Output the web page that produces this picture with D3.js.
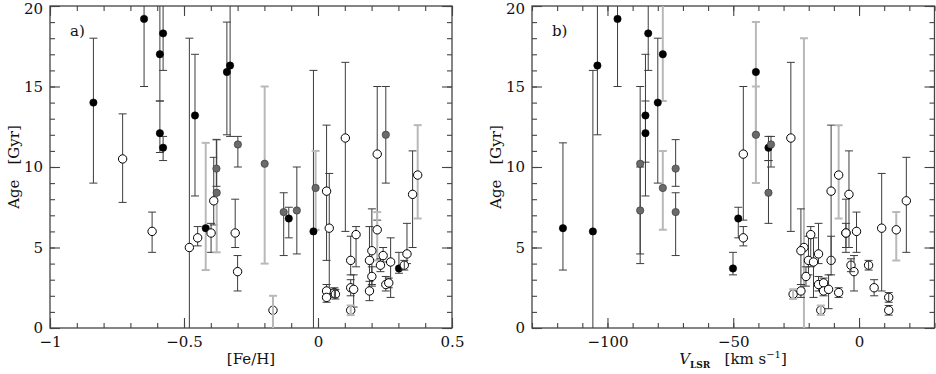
<!DOCTYPE html>
<html>
<head>
<meta charset="utf-8">
<script src="https://cdn.jsdelivr.net/npm/d3@7"></script>
<style>
  body { margin: 0; background: #fff; }
  svg text { font-family: "DejaVu Serif", serif; fill: #111; }
</style>
</head>
<body>
<div id="chart"></div>
<script>
/* DATA */
// panel a) : [Fe/H] vs age
const feh = [-0.838,-0.729,-0.649,-0.619,-0.590,-0.590,-0.578,-0.578,-0.480,-0.459,
  -0.449,-0.419,-0.399,-0.389,-0.378,-0.379,-0.340,-0.328,-0.309,-0.299,
  -0.300,-0.199,-0.168,-0.128,-0.109,-0.079,-0.017,-0.009,0.032,0.042,
  0.102,0.221,0.253,0.032,0.032,0.061,0.065,0.122,0.142,0.122,
  0.133,0.122,0.192,0.201,0.201,0.192,0.221,0.233,0.243,0.253,
  0.264,0.271,0.302,0.322,0.332,0.353,0.372];
const ageA = [14.0,10.5,19.2,6.0,17.0,12.1,18.3,11.2,5.0,13.2,
  5.6,6.2,5.9,7.9,8.4,9.9,15.9,16.3,5.9,11.4,
  3.5,10.2,1.1,7.2,6.8,7.3,6.0,8.7,8.5,6.2,
  11.8,10.8,12.0,2.3,1.9,2.2,2.1,4.2,5.8,2.5,
  2.4,1.1,4.2,4.8,3.2,2.3,6.1,3.9,4.5,2.7,
  2.8,4.1,3.7,3.9,4.6,8.3,9.5];
const loA = [9.0,7.8,15.0,4.7,14.1,10.9,16.0,10.4,0,8.2,
  5.1,3.6,4.7,6.4,4.7,8.8,12.0,11.9,5.0,10.0,
  2.3,4.0,0,4.5,5.6,4.6,0,6.1,4.2,2.4,
  6.0,6.7,9.0,2.0,1.6,1.9,1.8,3.3,3.8,2.0,
  1.3,0.8,2.2,2.7,2.6,1.7,4.2,3.5,4.1,2.3,
  2.5,1.9,3.4,3.6,4.0,5.0,6.8];
const hiA = [18.0,13.3,21,7.2,21,14.1,21,11.9,18.0,17.0,
  6.3,11.5,6.5,10.6,11.7,11.7,19.0,21,8.0,11.9,
  4.5,15.0,2.0,8.4,7.5,10.0,16.0,11.0,12.6,9.6,
  16.5,15.0,15.0,2.7,2.2,2.5,2.4,5.7,6.3,3.0,
  3.3,1.4,6.3,7.4,3.8,2.9,7.2,4.3,5.0,3.2,
  3.1,5.6,4.7,4.2,6.5,11.0,12.6];
// k = black, g = grey, o = open, x = open with bar on top
const markA = ["k","o","k","o","k","k","k","k","o","k",
  "o","k","o","o","g","g","k","k","o","g",
  "o","g","x","g","k","g","k","g","o","o",
  "o","o","g","o","o","x","x","o","o","o",
  "o","x","o","o","o","o","o","o","o","o",
  "o","o","k","x","o","o","o"];
// d = dark error bar, l = light error bar
const barA = ["d","d","d","d","d","d","d","d","d","d",
  "d","l","d","d","l","d","d","d","d","d",
  "d","l","l","d","d","d","d","l","d","d",
  "d","d","d","d","d","d","d","d","d","d",
  "d","l","d","d","d","d","l","d","d","d",
  "d","d","d","d","d","d","l"];

// panel b) : V_LSR vs age
const vlsr = [-117.7,-105.8,-104.0,-96.0,-87.0,-87.0,-84.9,-84.9,-83.8,-80.0,
  -78.0,-78.0,-72.9,-72.9,-50.1,-48.0,-46.0,-46.0,-41.0,-41.0,
  -36.0,-35.0,-36.0,-27.1,-21.9,-26.2,-23.1,-23.1,-21.1,-20.1,
  -19.2,-18.1,-16.1,-16.1,-15.2,-14.1,-14.1,-12.1,-11.1,-11.1,
  -8.1,-8.1,-4.0,-5.2,-5.2,-3.2,-2.0,-1.0,3.8,6.0,
  9.0,11.8,11.8,14.8,18.8];
const ageB = [6.2,6.0,16.3,19.2,10.2,7.3,13.2,12.1,18.3,14.0,
  17.0,8.7,9.9,7.2,3.7,6.8,5.6,10.8,15.9,12.0,
  11.2,11.4,8.4,11.8,5.0,2.1,4.8,2.3,3.2,4.2,
  5.8,4.1,4.6,2.7,1.1,2.8,2.3,2.4,8.5,4.2,
  9.5,2.2,8.3,5.9,5.9,3.9,3.5,6.0,3.9,2.5,
  6.2,1.9,1.1,6.1,7.9];
const loB = [3.6,0,12.0,15.0,4.0,4.6,8.2,10.3,16.0,9.0,
  14.1,6.1,8.8,4.5,3.3,5.6,5.1,6.7,12.0,9.0,
  10.4,10.0,6.5,6.0,0,1.8,2.7,1.9,2.6,3.3,
  3.8,1.9,4.0,2.3,0.8,2.5,2.0,1.2,4.2,3.3,
  6.8,1.9,5.0,5.0,4.7,3.5,2.3,4.7,3.6,2.0,
  2.3,1.6,0.8,4.2,4.7];
const hiB = [11.5,16.0,21,21,15.0,10.0,17.0,14.1,21,18.0,
  21,11.0,11.7,8.4,4.7,7.5,6.3,15.0,19.0,15.0,
  11.9,11.9,10.4,16.5,18.0,2.4,7.4,2.7,3.8,5.7,
  6.3,5.6,6.5,3.2,1.4,3.1,2.6,3.3,12.6,5.7,
  12.6,2.5,11.0,8.0,6.5,4.3,4.5,7.2,4.2,3.0,
  9.6,2.2,1.4,7.2,10.6];
const markB = ["k","k","k","k","g","g","k","k","k","k",
  "k","g","g","g","k","k","o","o","k","g",
  "k","g","g","o","o","x","o","o","o","o",
  "o","o","o","o","x","o","o","o","o","x",
  "o","o","o","o","o","x","o","o","x","o",
  "o","x","o","o","o"];
const barB = ["d","d","d","d","d","d","d","d","d","d",
  "l","l","d","d","d","d","d","d","l","l",
  "d","d","d","d","l","l","d","d","d","d",
  "d","d","d","d","l","d","d","d","d","d",
  "l","d","d","d","d","d","d","d","d","d",
  "d","d","d","l","d"];

// axis ticks
const fehMajor = [-1, -0.5, 0, 0.5];
const fehMinor = d3.range(-10, 6).map(d => d / 10);
const vMajor = [-100, -50, 0];
const vMinor = d3.range(-13, 4).map(d => d * 10);
const ageMajor = [0, 5, 10, 15, 20];
const ageMinor = d3.range(0, 21);

/* LAYOUT */
const width = 936, height = 374;
const plotTop = 6, plotBottom = 328;
const frameColor = "#444", darkBar = "#3c3c3c", lightBar = "#b9b9b9";

const svg = d3.select("#chart").append("svg")
  .attr("width", width)
  .attr("height", height);

const yScale = d3.scaleLinear().domain([0, 20]).range([plotBottom, plotTop]);

function drawPanel(cfg) {
  const xScale = d3.scaleLinear().domain(cfg.domain).range([cfg.left, cfg.right]);
  const g = svg.append("g");

  g.append("clipPath").attr("id", cfg.id + "clip")
    .append("rect")
    .attr("x", cfg.left).attr("y", plotTop)
    .attr("width", cfg.right - cfg.left).attr("height", plotBottom - plotTop);

  // ticks on all four sides, pointing inward
  [[d3.axisBottom, plotBottom, true], [d3.axisTop, plotTop, false]].forEach(([fn, pos, labels]) => {
    g.append("g").attr("transform", `translate(0,${pos})`)
      .call(fn(xScale).tickValues(cfg.minor).tickSize(-5).tickFormat(""))
      .call(a => a.select(".domain").remove());
    g.append("g").attr("transform", `translate(0,${pos})`)
      .call(fn(xScale).tickValues(cfg.major).tickSize(-10).tickPadding(8)
        .tickFormat(labels ? d3.format("") : ""))
      .call(a => a.select(".domain").remove());
  });
  [[d3.axisLeft, cfg.left, true], [d3.axisRight, cfg.right, false]].forEach(([fn, pos, labels]) => {
    g.append("g").attr("transform", `translate(${pos},0)`)
      .call(fn(yScale).tickValues(ageMinor).tickSize(-5).tickFormat(""))
      .call(a => a.select(".domain").remove());
    g.append("g").attr("transform", `translate(${pos},0)`)
      .call(fn(yScale).tickValues(ageMajor).tickSize(-10).tickPadding(7)
        .tickFormat(labels ? d3.format("") : ""))
      .call(a => a.select(".domain").remove());
  });
  g.selectAll(".tick line").attr("stroke", frameColor).attr("stroke-width", 1.1);
  g.selectAll(".tick text")
    .style("font-family", '"DejaVu Serif", serif')
    .style("font-size", "15px")
    .attr("fill", "#111");
  // keep the top label "20" inside the page, as in the original
  g.selectAll(".tick text").filter(d => d === 20).attr("dy", "0.5em");

  g.append("rect")
    .attr("x", cfg.left).attr("y", plotTop)
    .attr("width", cfg.right - cfg.left).attr("height", plotBottom - plotTop)
    .attr("fill", "none").attr("stroke", frameColor).attr("stroke-width", 1.3);

  const data = cfg.x.map((v, i) => ({
    x: v, age: cfg.age[i], lo: cfg.lo[i], hi: cfg.hi[i], mark: cfg.mark[i], bar: cfg.bar[i]
  }));

  const plot = g.append("g").attr("clip-path", `url(#${cfg.id}clip)`);

  function bars(sel) {
    const b = sel.append("g")
      .attr("stroke", d => d.bar === "l" ? lightBar : darkBar)
      .attr("stroke-width", d => d.bar === "l" ? 2 : 1);
    b.append("line")
      .attr("x1", d => xScale(d.x)).attr("x2", d => xScale(d.x))
      .attr("y1", d => yScale(d.lo)).attr("y2", d => yScale(d.hi));
    ["lo", "hi"].forEach(k => {
      b.filter(d => d[k] > 0 && d[k] < 20).append("line")
        .attr("x1", d => xScale(d.x) - 4).attr("x2", d => xScale(d.x) + 4)
        .attr("y1", d => yScale(d[k])).attr("y2", d => yScale(d[k]));
    });
  }

  plot.selectAll("g.bar").data(data.filter(d => d.mark !== "x")).join("g")
    .attr("class", "bar").call(bars);

  plot.selectAll("circle").data(data).join("circle")
    .attr("cx", d => xScale(d.x))
    .attr("cy", d => yScale(d.age))
    .attr("r", d => d.mark === "k" || d.mark === "g" ? 3.7 : 4.2)
    .attr("fill", d => d.mark === "k" ? "#000" : d.mark === "g" ? "#6a6a6a" : "#fff")
    .attr("stroke", d => d.mark === "g" ? "#333" : "#000")
    .attr("stroke-width", d => d.mark === "k" ? 0.5 : d.mark === "g" ? 0.6 : 1);

  plot.selectAll("g.xbar").data(data.filter(d => d.mark === "x")).join("g")
    .attr("class", "xbar").call(bars);

  // panel letter
  g.append("text").attr("x", cfg.left + 20).attr("y", 36)
    .style("font-size", "15px").text(cfg.letter);

  // y title
  g.append("text")
    .attr("transform", `translate(${cfg.left - 31},${(plotTop + plotBottom) / 2}) rotate(-90)`)
    .attr("text-anchor", "middle")
    .style("font-size", "15px")
    .text("Age\u2003[Gyr]");

  return g;
}

const ga = drawPanel({
  id: "a", letter: "a)", left: 50, right: 452, domain: [-1, 0.5],
  major: fehMajor, minor: fehMinor,
  x: feh, age: ageA, lo: loA, hi: hiA, mark: markA, bar: barA
});
ga.append("text").attr("x", 251).attr("y", 364)
  .attr("text-anchor", "middle").style("font-size", "15px")
  .text("[Fe/H]");

const gb = drawPanel({
  id: "b", letter: "b)", left: 532, right: 934.5, domain: [-130, 30],
  major: vMajor, minor: vMinor,
  x: vlsr, age: ageB, lo: loB, hi: hiB, mark: markB, bar: barB
});
const vt = gb.append("text").attr("x", 733).attr("y", 364)
  .attr("text-anchor", "middle").style("font-size", "15px");
vt.append("tspan").style("font-style", "italic").text("V");
vt.append("tspan").attr("dy", 4).style("font-size", "9px").style("font-weight", "bold").text("LSR");
vt.append("tspan").attr("dy", -4).text("\u00a0\u00a0\u00a0[km s");
vt.append("tspan").attr("dy", -6).style("font-size", "10px").text("\u22121");
vt.append("tspan").attr("dy", 6).text("]");
</script>
</body>
</html>
